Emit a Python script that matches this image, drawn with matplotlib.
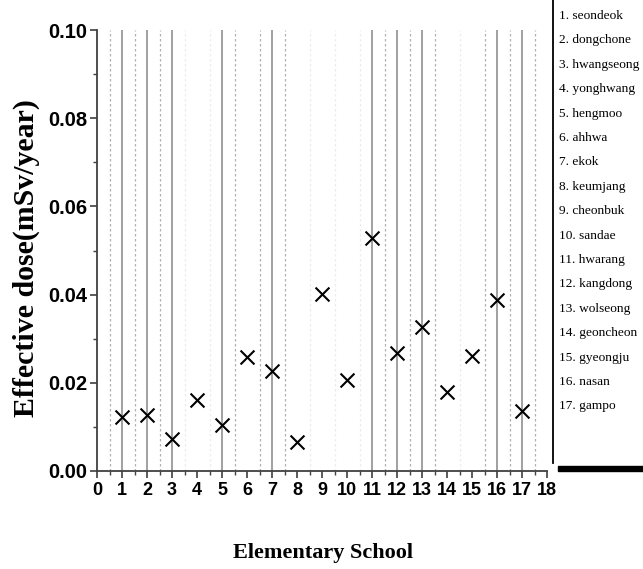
import matplotlib
matplotlib.use("Agg")
import matplotlib.pyplot as plt
from matplotlib.lines import Line2D
from matplotlib.patches import Rectangle

school_num = [1, 2, 3, 4, 5, 6, 7, 8, 9, 10, 11, 12, 13, 14, 15, 16, 17]
dose = [0.0122, 0.0127, 0.0073, 0.0161, 0.0104, 0.0259, 0.0227, 0.0066, 0.0402,
        0.0206, 0.0528, 0.0268, 0.0327, 0.0179, 0.0260, 0.0388, 0.0135]
school_names = ["1. seondeok", "2. dongchone", "3. hwangseong", "4. yonghwang",
                "5. hengmoo", "6. ahhwa", "7. ekok", "8. keumjang", "9. cheonbuk",
                "10. sandae", "11. hwarang", "12. kangdong", "13. wolseong",
                "14. geoncheon", "15. gyeongju", "16. nasan", "17. gampo"]
solid_grid = [1, 2, 3, 5, 7, 11, 12, 13, 16, 17]
dotted_grid = [0.5, 1.5, 2.5, 5.5, 6.5, 7.5, 11.5, 12.5, 13.5, 15.5, 16.5, 17.5]
faint_grid = [3.5, 4.5, 8.5, 9.5, 10.5, 14.5]
x_ticks = list(range(0, 19))
y_ticks = [0.00, 0.02, 0.04, 0.06, 0.08, 0.10]

W, H = 643, 569
fig = plt.figure(figsize=(W / 100, H / 100), dpi=100)
ax = fig.add_axes([97 / W, 1 - 471 / H, 450 / W, 441 / H])

sans = ["Liberation Sans Narrow", "Liberation Sans", "DejaVu Sans"]
serif = ["Liberation Serif", "DejaVu Serif"]

for g in solid_grid:
    ax.axvline(g, color="#909090", lw=1.2, zorder=1)
for g in dotted_grid:
    ax.axvline(g, color="#b0b0b0", lw=0.9, ls=(0, (2, 2)), zorder=1)
for g in faint_grid:
    ax.axvline(g, color="#ececec", lw=0.9, ls=(0, (2, 2)), zorder=1)

ax.scatter(school_num, dose, marker="x", s=100, color="black", linewidths=1.5, zorder=3)

ax.set_xlim(0, 18)
ax.set_ylim(0, 0.10)
ax.set_xticks(x_ticks)
ax.set_xticks([i + 0.5 for i in range(18)], minor=True)
ax.set_yticks(y_ticks)
ax.set_yticks([0.01, 0.03, 0.05, 0.07, 0.09], minor=True)
ax.set_xticklabels([str(t) for t in x_ticks],
                   fontdict=dict(family=sans, weight="bold", size=13))
ax.set_yticklabels([f"{t:.2f}" for t in y_ticks],
                   fontdict=dict(family=sans, weight="bold", size=14.5))
ax.tick_params(which="major", direction="out", length=5, width=1.2, color="#404040", pad=3)
ax.tick_params(axis="y", which="major", pad=2)
ax.tick_params(which="minor", direction="out", length=3, width=1.0, color="#404040")
for s in ["top", "right"]:
    ax.spines[s].set_visible(False)
for s in ["left", "bottom"]:
    ax.spines[s].set_color("#404040")
    ax.spines[s].set_linewidth(1.3)

fig.text(26 / W, 1 - 258 / H, "Effective dose(mSv/year)", rotation=90,
         ha="center", va="center", family=serif, weight="bold", size=21.5)
fig.text(323 / W, 1 - 553 / H, "Elementary School", ha="center", va="center",
         family=serif, weight="bold", size=16)

# legend-like panel on the right
fig.add_artist(Line2D([553 / W, 553 / W], [1 - 463 / H, 1.0], color="black", lw=1.3))
fig.add_artist(Rectangle((558 / W, 1 - 471 / H), 85 / W, 5 / H, color="black"))
for i, name in enumerate(school_names):
    y = 16 + i * 24.4
    fig.text(559 / W, 1 - y / H, name, ha="left", va="center", family=serif, size=9.6)

fig.savefig("out.png", dpi=100)
